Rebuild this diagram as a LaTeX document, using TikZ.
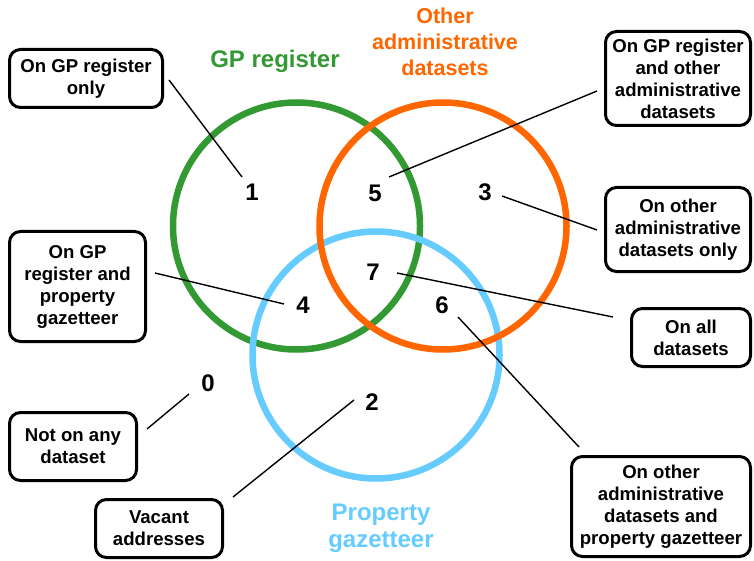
\documentclass[tikz,border=0pt]{standalone}
\usepackage{fontspec}
\setmainfont{Liberation Sans}
\definecolor{gpgreen}{HTML}{339933}
\definecolor{adminorange}{HTML}{FF6600}
\definecolor{propblue}{HTML}{66CCFF}
\begin{document}
\begin{tikzpicture}[x=1pt,y=-1pt,
  box/.style={draw=black,line width=3pt,rounded corners=11pt,align=center,
    font=\bfseries\fontsize{18.6}{22}\selectfont,inner sep=0pt},
  num/.style={font=\bfseries\fontsize{24}{28}\selectfont,inner sep=0pt},
  ring/.style={line width=6.5pt},
  conn/.style={line width=1.4pt,black}]
\useasboundingbox (0,0) rectangle (754,561);

% circles
\draw[ring,gpgreen] (296.5,226) circle[radius=123.5];
\draw[ring,propblue] (376,355) circle[radius=123.5];
\draw[ring,adminorange] (443,226) circle[radius=123.5];

% titles
\node[text=gpgreen,font=\bfseries\fontsize{24}{28}\selectfont] (tgp) at (275,61) {GP register};
\node[text=adminorange,align=center,font=\bfseries\fontsize{21.5}{26}\selectfont] (tadm) at (445,42) {Other\\administrative\\datasets};
\node[text=propblue,align=center,font=\bfseries\fontsize{24}{27}\selectfont] (tprop) at (381,528) {Property\\gazetteer};

% numbers
\node[num] (n1) at (252,192) {1};
\node[num] (n5) at (375,193) {5};
\node[num] (n3) at (485,192) {3};
\node[num] (n7) at (373,272) {7};
\node[num] (n4) at (303,305) {4};
\node[num] (n6) at (442,305) {6};
\node[num] (n0) at (208,383) {0};
\node[num] (n2) at (372,402) {2};

% boxes
\node[box,minimum width=153pt,minimum height=58pt] (b1) at (86,78.5) {On GP register\\only};
\node[box,minimum width=145pt,minimum height=94pt] (b5) at (678,78.5) {On GP register\\and other\\administrative\\datasets};
\node[box,minimum width=145pt,minimum height=84pt] (b3) at (678,229.5) {On other\\administrative\\datasets only};
\node[box,minimum width=119pt,minimum height=58pt] (b7) at (691,337.5) {On all\\datasets};
\node[box,minimum width=179pt,minimum height=100pt] (b6) at (661,506.5) {On other\\administrative\\datasets and\\property gazetteer};
\node[box,minimum width=136pt,minimum height=110pt] (b4) at (77.5,286.5) {On GP\\register and\\property\\gazetteer};
\node[box,minimum width=127pt,minimum height=68pt] (b0) at (73,446.5) {Not on any\\dataset};
\node[box,minimum width=127pt,minimum height=58pt] (b2) at (159,528.5) {Vacant\\addresses};

% connectors
\draw[conn] ([shift={(83,1.5)}]b1.center) -- ([shift={(-10,-15)}]n1.center);
\draw[conn] ([shift={(-81,12.5)}]b5.center) -- ([shift={(14,-16)}]n5.center);
\draw[conn] ([shift={(17,4)}]n3.center) -- ([shift={(-81,0.5)}]b3.center);
\draw[conn] ([shift={(24,1)}]n7.center) -- ([shift={(-78,-20.5)}]b7.center);
\draw[conn] ([shift={(16,12)}]n6.center) -- ([shift={(-82,-59.5)}]b6.center);
\draw[conn] ([shift={(77.5,-13.5)}]b4.center) -- ([shift={(-19,-1)}]n4.center);
\draw[conn] ([shift={(-19,11)}]n0.center) -- ([shift={(74,-17.5)}]b0.center);
\draw[conn] ([shift={(-18,-2)}]n2.center) -- ([shift={(74,-31.5)}]b2.center);
\end{tikzpicture}
\end{document}
